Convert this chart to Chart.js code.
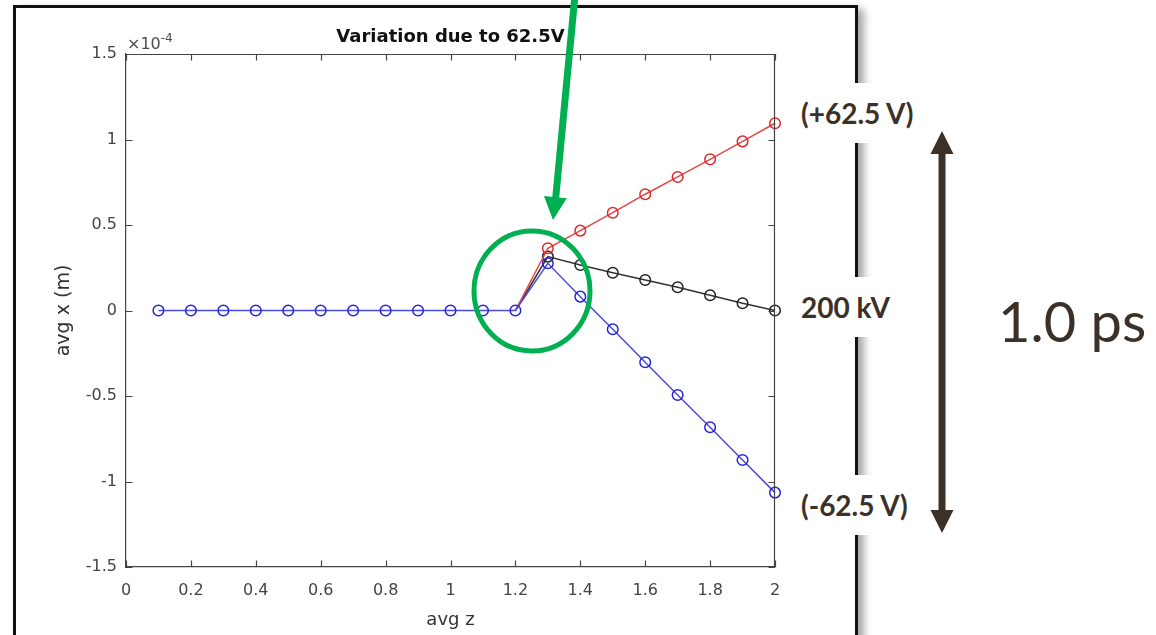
<!DOCTYPE html>
<html>
<head>
<meta charset="utf-8">
<script src="https://cdn.jsdelivr.net/npm/chart.js@4.4.1/dist/chart.umd.min.js"></script>
<style>
html,body{margin:0;padding:0;background:#fff;width:1156px;height:635px;overflow:hidden;}
body{position:relative;}
#frame{position:absolute;left:13px;top:5px;width:839px;height:700px;border:3px solid #111;box-shadow:6px 4px 8px rgba(0,0,0,0.35);}
#c{position:absolute;left:0;top:0;}
svg{position:absolute;left:0;top:0;}
.exp{position:absolute;left:127px;top:36px;font-family:'DejaVu Sans',sans-serif;font-size:16px;line-height:16px;color:#4d4d4d;white-space:nowrap;}
.exp span{font-size:12px;position:relative;top:-7px;}
.lbl{position:absolute;left:792px;width:136px;height:60px;line-height:60px;padding-left:9px;box-sizing:border-box;background:#fff;font-family:Lato,'Open Sans',sans-serif;font-weight:bold;font-size:28px;color:#3b3129;white-space:nowrap;}
.ps{position:absolute;left:998px;top:293px;font-family:Lato,'Open Sans',sans-serif;font-size:56px;line-height:56px;color:#3b3129;white-space:nowrap;}
</style>
</head>
<body>
<div id="frame"></div>
<canvas id="c" width="1156" height="635"></canvas>
<div class="exp">×10<span>-4</span></div>
<svg width="1156" height="635">
  <ellipse cx="532" cy="291" rx="58" ry="60" fill="none" stroke="#00b050" stroke-width="5"/>
  <line x1="575" y1="-5" x2="555.6" y2="199" stroke="#00b050" stroke-width="7"/>
  <polygon points="553,220 543.9,195.9 566.8,198.3" fill="#00b050"/>
  <line x1="942" y1="150" x2="942" y2="514" stroke="#3b3129" stroke-width="7"/>
  <polygon points="942,131 930.5,154 953.5,154" fill="#3b3129"/>
  <polygon points="942,533 930.5,510 953.5,510" fill="#3b3129"/>
</svg>
<div class="lbl" style="top:83px">(+62.5 V)</div>
<div class="lbl" style="top:277px">200 kV</div>
<div class="lbl" style="top:475px">(-62.5 V)</div>
<div class="ps">1.0 ps</div>
<script>
// avg z values
const avgZ = [0.1,0.2,0.3,0.4,0.5,0.6,0.7,0.8,0.9,1.0,1.1,1.2,1.3,1.4,1.5,1.6,1.7,1.8,1.9,2.0];
// avg x in units of 1e-4 m
const minus62V = [0,0,0,0,0,0,0,0,0,0,0,0,0.276,0.081,-0.110,-0.303,-0.494,-0.683,-0.874,-1.065];
const plus62V  = [0,0,0,0,0,0,0,0,0,0,0,0,0.364,0.467,0.572,0.680,0.781,0.884,0.989,1.095];
const kv200    = [0,0,0,0,0,0,0,0,0,0,0,0,0.315,0.266,0.221,0.178,0.136,0.089,0.042,0.000];
// the three runs coincide (hidden under the blue one) up to this z
const splitZ = 1.2;

const xTickValues = [0,0.2,0.4,0.6,0.8,1,1.2,1.4,1.6,1.8,2];
const xTickLabels = ['0','0.2','0.4','0.6','0.8','1','1.2','1.4','1.6','1.8','2'];
const yTickValues = [-1.5,-1,-0.5,0,0.5,1,1.5];
const yTickLabels = ['-1.5','-1','-0.5','0','0.5','1','1.5'];

const toPts = arr => avgZ.map((z,i)=>({x:z,y:arr[i]}));

const axisColor = '#444444';
const tickFont = {family:"'DejaVu Sans', sans-serif", size:16};

const boxPlugin = {
  id:'matlabBox',
  afterDraw(chart){
    const {ctx, chartArea:a, scales} = chart;
    const tl = 6.5;
    ctx.save();
    ctx.strokeStyle = axisColor;
    ctx.lineWidth = 1.2;
    ctx.beginPath();
    ctx.moveTo(a.left, a.top+0.5); ctx.lineTo(a.right, a.top+0.5);
    ctx.moveTo(a.right-0.5, a.top); ctx.lineTo(a.right-0.5, a.bottom);
    xTickValues.forEach(v=>{
      const px = Math.round(scales.x.getPixelForValue(v))+0.5;
      ctx.moveTo(px, a.bottom); ctx.lineTo(px, a.bottom-tl);
      ctx.moveTo(px, a.top); ctx.lineTo(px, a.top+tl);
    });
    yTickValues.forEach(v=>{
      const py = Math.round(scales.y.getPixelForValue(v))+0.5;
      ctx.moveTo(a.left, py); ctx.lineTo(a.left+tl, py);
      ctx.moveTo(a.right, py); ctx.lineTo(a.right-tl, py);
    });
    ctx.stroke();
    ctx.restore();
  }
};

const mk = (label, arr, line, pt, hideShared) => ({
  label, data: toPts(arr), showLine:true, borderColor:line, borderWidth:1.5,
  pointRadius: hideShared ? (c => (c.raw && c.raw.x <= splitZ + 1e-9) ? 0 : 5.3) : 5.3,
  pointBorderColor:pt, pointBackgroundColor:'rgba(0,0,0,0)',
  pointBorderWidth:1.5, pointHoverRadius:5.3, clip:false, tension:0,
  segment: hideShared ? { borderColor: c => (c.p1.parsed.x <= splitZ + 1e-9) ? 'rgba(0,0,0,0)' : undefined } : undefined
});

new Chart(document.getElementById('c'), {
  type:'scatter',
  data:{
    datasets:[
      mk('-62.5 V', minus62V, '#4a4ade', '#2626d8', false),
      mk('+62.5 V', plus62V, '#e84444', '#e02828', true),
      mk('200 kV', kv200, '#333333', '#222222', true)
    ]
  },
  options:{
    responsive:false,
    animation:false,
    layout:{padding:{left:40, right:381, top:0, bottom:0}},
    plugins:{
      legend:{display:false},
      tooltip:{enabled:false},
      title:{
        display:true, text:'Variation due to 62.5V', fullSize:false,
        font:{family:"'DejaVu Sans', sans-serif", size:18, weight:'bold'},
        color:'#111', padding:{top:27, bottom:5.4}
      }
    },
    scales:{
      x:{
        type:'linear', min:0, max:2,
        afterBuildTicks(s){ s.ticks = xTickValues.map(v=>({value:v})); },
        afterFit(s){ s.height = 68; s.paddingLeft = 0; s.paddingRight = 0; },
        ticks:{ callback:(v,i)=>xTickLabels[i], font:tickFont, color:'#444', padding:14, maxRotation:0, autoSkip:false },
        grid:{display:false, drawTicks:false},
        border:{display:true, color:axisColor, width:1.2},
        title:{display:true, text:'avg z', font:{family:"'DejaVu Sans', sans-serif", size:18}, color:'#333', padding:{top:0,bottom:4}}
      },
      y:{
        type:'linear', min:-1.5, max:1.5,
        afterBuildTicks(s){ s.ticks = yTickValues.map(v=>({value:v})); },
        afterFit(s){ s.width = 86; s.paddingTop = 0; s.paddingBottom = 0; },
        ticks:{ callback:(v,i)=>yTickLabels[i], font:tickFont, color:'#444', padding:9, autoSkip:false },
        grid:{display:false, drawTicks:false},
        border:{display:true, color:axisColor, width:1.2},
        title:{display:true, text:'avg x (m)', font:{family:"'DejaVu Sans', sans-serif", size:19}, color:'#333', padding:{top:13,bottom:0}}
      }
    }
  },
  plugins:[boxPlugin]
});
</script>
</body>
</html>
